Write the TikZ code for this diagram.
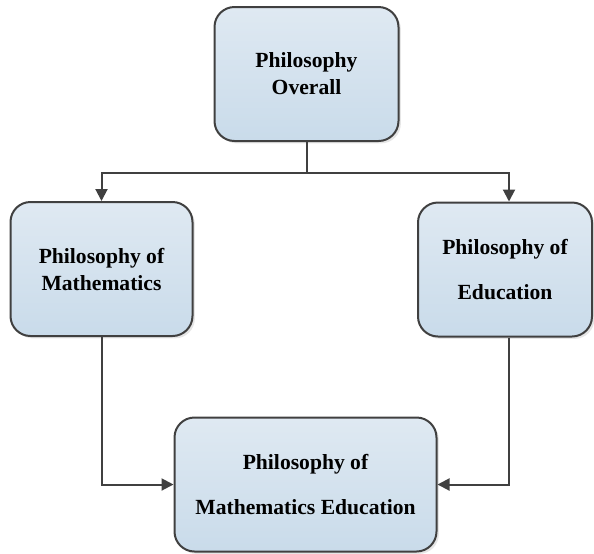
\documentclass[tikz,border=0pt]{standalone}
\usepackage{fontspec}
\setmainfont{Liberation Serif}
\usepackage{tikz}
\usetikzlibrary{arrows.meta,calc,positioning,shadows}
\definecolor{philTop}{HTML}{DFE9F2}
\definecolor{philBottom}{HTML}{C9DBEA}
\definecolor{philGray}{HTML}{404040}
\tikzset{
  link/.style={-{Triangle[length=6pt,width=6pt]}, line width=1pt, draw=philGray},
  plain link/.style={line width=1pt, draw=philGray},
  phil box/.style={draw=philGray, line width=1pt, rounded corners=10pt,
    top color=philTop, bottom color=philBottom, align=center,
    minimum height=67pt, inner sep=2pt,
    font=\fontsize{10.8}{13.5}\selectfont\bfseries,
    drop shadow={shadow xshift=1.2pt, shadow yshift=-1.2pt, opacity=0.2}},
  wide lines/.style={font=\fontsize{10.8}{22.5}\selectfont\bfseries}
}
\begin{document}
\begin{tikzpicture}[x=0.5pt,y=-0.5pt]
  \useasboundingbox (0,0) rectangle (594,553);
  \node[phil box, minimum width=92pt] (overall) at (306.5,74) {Philosophy\\Overall};
  \node[phil box, minimum width=91pt] (math) at (101.5,269) {Philosophy of\\Mathematics};
  \node[phil box, wide lines, minimum width=87pt] (edu) at (505,269.5) {Philosophy of\\Education};
  \node[phil box, wide lines, minimum width=131pt] (mathedu) at (305.5,484.5)
    {Philosophy of\\Mathematics Education};
  \coordinate (split) at ($(overall.south)+(0,31)$);
  \draw[plain link] (overall.south) -- (split);
  \draw[link] (split) -| (math.north);
  \draw[link] (split) -| ([xshift=2pt]edu.north);
  \draw[link] (math.south) |- (mathedu.west);
  \draw[link] ([xshift=2pt]edu.south) |- (mathedu.east);
\end{tikzpicture}
\end{document}
